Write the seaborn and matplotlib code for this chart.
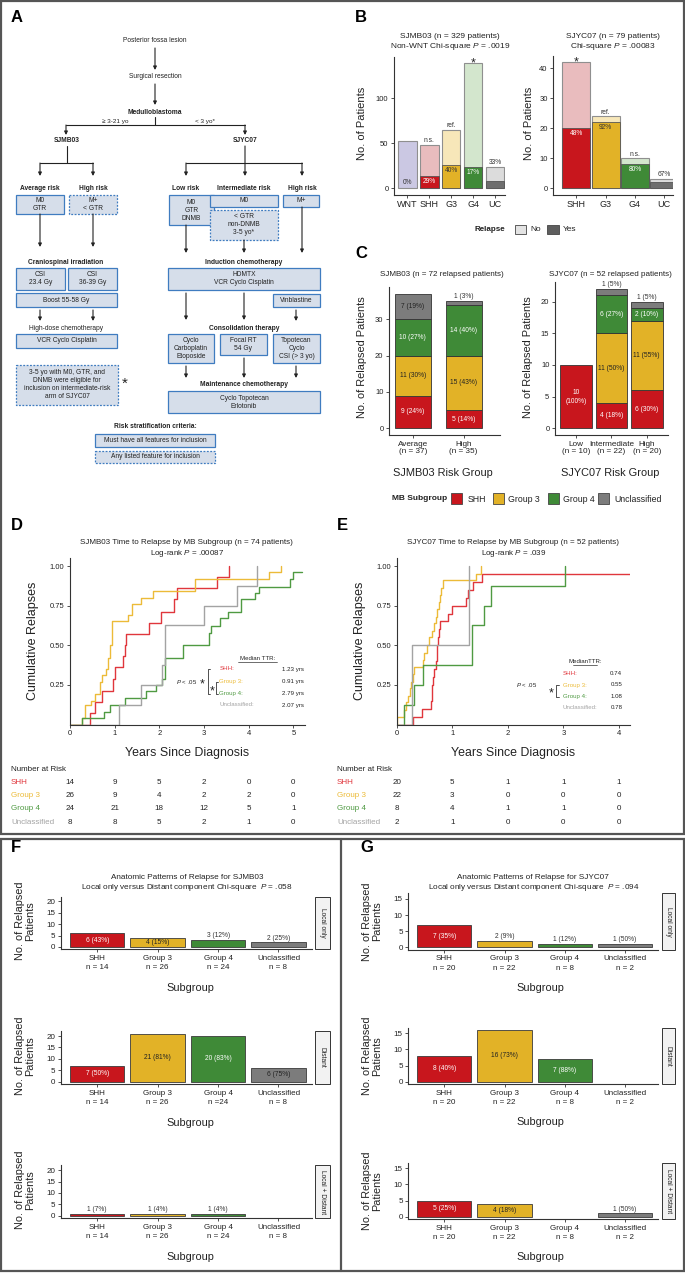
import numpy as np
import pandas as pd
import matplotlib
matplotlib.use("Agg")
import matplotlib.pyplot as plt
import matplotlib.transforms as mtransforms
from matplotlib.patches import Rectangle
import seaborn as sns

# ---------------- data ----------------
# B: patients per subgroup, and how many of them relapsed
b1_groups = ["WNT", "SHH", "G3", "G4", "UC"]
b1_total = [53, 48, 65, 139, 24]
b1_relapse = [0, 14, 26, 24, 8]
b1_pct = ["0%", "29%", "40%", "17%", "33%"]
b1_mark = ["", "n.s.", "ref.", "*", ""]

b2_groups = ["SHH", "G3", "G4", "UC"]
b2_total = [42, 24, 10, 3]
b2_relapse = [20, 22, 8, 2]
b2_pct = ["48%", "92%", "80%", "67%"]
b2_mark = ["*", "ref.", "n.s.", ""]

# C: relapsed patients per risk group, rows = SHH, Group 3, Group 4, Unclassified
subgroups = ["SHH", "Group 3", "Group 4", "Unclassified"]
c1_risk = ["Average\n(n = 37)", "High\n(n = 35)"]
c1_counts = [[9, 5], [11, 15], [10, 14], [7, 1]]
c1_pct = [[24, 14], [30, 43], [27, 40], [19, 3]]
c2_risk = ["Low\n(n = 10)", "Intermediate\n(n = 22)", "High\n(n = 20)"]
c2_counts = [[10, 4, 6], [0, 11, 11], [0, 6, 2], [0, 1, 1]]
c2_pct = [[100, 18, 30], [0, 50, 55], [0, 27, 10], [0, 5, 5]]

# D: SJMB03 cumulative relapse steps (years, cumulative fraction)
d_shh_t = [0, 0.45, 0.57, 0.71, 0.97, 1.00, 1.18, 1.23, 1.25, 1.77, 2.04, 2.33, 2.39, 3.30, 3.55]
d_shh_y = [0, 0.07, 0.14, 0.21, 0.29, 0.36, 0.43, 0.50, 0.57, 0.64, 0.71, 0.79, 0.86, 0.93, 1.00]
d_g3_t = [0, 0.26, 0.34, 0.46, 0.56, 0.67, 0.72, 0.80, 0.86, 0.90, 0.93, 1.30, 1.38, 1.60, 1.85, 2.80, 4.46, 4.72]
d_g3_y = [0, 0.04, 0.12, 0.15, 0.19, 0.27, 0.31, 0.35, 0.42, 0.50, 0.65, 0.69, 0.76, 0.80, 0.84, 0.92, 0.96, 1.00]
d_g4_t = [0, 0.26, 0.77, 0.89, 1.23, 1.69, 1.93, 2.05, 2.13, 2.52, 3.12, 3.15, 3.35, 3.54, 3.82, 4.14, 4.24, 4.92, 5.00, 5.20]
d_g4_y = [0, 0.04, 0.08, 0.125, 0.17, 0.21, 0.25, 0.29, 0.42, 0.50, 0.58, 0.62, 0.67, 0.71, 0.79, 0.83, 0.87, 0.92, 0.96, 0.96]
d_unc_t = [0, 1.10, 1.60, 2.07, 2.12, 3.00, 3.74, 4.19]
d_unc_y = [0, 0.125, 0.25, 0.375, 0.625, 0.75, 0.875, 1.00]
d_median = ["1.23 yrs", "0.91 yrs", "2.79 yrs", "2.07 yrs"]
d_risk_years = [0, 1, 2, 3, 4, 5]
d_at_risk = [[14, 9, 5, 2, 0, 0], [26, 9, 4, 2, 2, 0], [24, 21, 18, 12, 5, 1], [8, 8, 5, 2, 1, 0]]

# E: SJYC07
e_shh_t = [0, 0.29, 0.45, 0.62, 0.63, 0.64, 0.66, 0.67, 0.70, 0.72, 0.73, 0.75, 0.77, 0.78, 0.93, 0.99, 1.25, 1.29, 1.38, 1.53, 4.20]
e_shh_y = [0, 0.05, 0.10, 0.15, 0.20, 0.25, 0.30, 0.35, 0.40, 0.45, 0.50, 0.55, 0.60, 0.65, 0.70, 0.75, 0.80, 0.85, 0.90, 0.95, 0.95]
e_g3_t = [0, 0.00, 0.14, 0.17, 0.21, 0.24, 0.26, 0.29, 0.31, 0.47, 0.50, 0.55, 0.59, 0.64, 0.68, 0.70, 0.72, 0.76, 0.78, 0.80, 0.84, 1.43, 1.51]
e_g3_y = [0, 0.045, 0.09, 0.14, 0.18, 0.23, 0.27, 0.32, 0.36, 0.41, 0.45, 0.50, 0.55, 0.59, 0.64, 0.68, 0.73, 0.77, 0.82, 0.86, 0.91, 0.95, 1.00]
e_g4_t = [0, 0.14, 0.31, 0.47, 1.35, 1.57, 1.69, 3.03]
e_g4_y = [0, 0.125, 0.25, 0.375, 0.625, 0.75, 0.875, 1.00]
e_unc_t = [0, 0.27, 1.30]
e_unc_y = [0, 0.50, 1.00]
e_median = ["0.74", "0.55", "1.08", "0.78"]
e_risk_years = [0, 1, 2, 3, 4]
e_at_risk = [[20, 5, 1, 1, 1], [22, 3, 0, 0, 0], [8, 4, 1, 1, 0], [2, 1, 0, 0, 0]]

# F / G: anatomic pattern of relapse
f_local = [6, 4, 3, 2]
f_local_pct = [43, 15, 12, 25]
f_distant = [7, 21, 20, 6]
f_distant_pct = [50, 81, 83, 75]
f_both = [1, 1, 1, 0]
f_both_pct = [7, 4, 4, 0]
f_n = ["n = 14", "n = 26", "n = 24", "n = 8"]
f_n_distant = ["n = 14", "n = 26", "n =24", "n = 8"]
g_local = [7, 2, 1, 1]
g_local_pct = [35, 9, 12, 50]
g_distant = [8, 16, 7, 0]
g_distant_pct = [40, 73, 88, 0]
g_both = [5, 4, 0, 1]
g_both_pct = [25, 18, 0, 50]
g_n = ["n = 20", "n = 22", "n = 8", "n = 2"]

# ---------------- style ----------------
W, H = 685, 1273
sns.set_style("ticks")
plt.rcParams["font.family"] = ["Liberation Sans", "DejaVu Sans"]
plt.rcParams["mathtext.fontset"] = "custom"
plt.rcParams["mathtext.rm"] = "Liberation Sans"
plt.rcParams["mathtext.it"] = "Liberation Sans:italic"

SUB_COL = {"SHH": "#c8161d", "Group 3": "#e2b227", "Group 4": "#3f8a37", "Unclassified": "#7c7c7c"}
SUB_TXT = {"SHH": "white", "Group 3": "#222222", "Group 4": "white", "Unclassified": "#222222"}
KM_COL = ["#e0363c", "#ecbb38", "#4f9a42", "#a3a3a3"]
B_LIGHT = {"WNT": "#cbc8e3", "SHH": "#e9bcbe", "G3": "#f7e7b9", "G4": "#d3e6cd", "UC": "#dcdcdc"}
B_DARK = {"WNT": "#cbc8e3", "SHH": "#c8161d", "G3": "#e2b227", "G4": "#3f8a37", "UC": "#6e6e6e"}
BOX_FC, BOX_EC = "#d6deea", "#3f7cc0"

fig = plt.figure(figsize=(W / 100, H / 100), dpi=100)
ov = fig.add_axes([0, 0, 1, 1])
ov.set_xlim(0, W)
ov.set_ylim(H, 0)
ov.axis("off")


def px_axes(l, t, r, b):
    return fig.add_axes([l / W, 1 - b / H, (r - l) / W, (b - t) / H])


def px2d(ax, px):
    lo, hi = ax.get_ylim()
    return px * (hi - lo) / (ax.get_position().height * H)


def style(ax, fs=5.5):
    sns.despine(ax=ax)
    for s in ("left", "bottom"):
        ax.spines[s].set_color("#333333")
        ax.spines[s].set_linewidth(0.8)
    ax.tick_params(length=2.5, width=0.6, labelsize=fs, pad=1.5, colors="#333333", labelcolor="#222222")
    ax.set_facecolor("none")
    ax.set_xlabel("")
    ax.set_ylabel("")


def tx(x, y, s, fs=5, **kw):
    kw.setdefault("ha", "center")
    kw.setdefault("va", "center")
    kw.setdefault("color", "#222222")
    ov.text(x, y, s, fontsize=fs, **kw)


def title(x, y, s, fs=8, rot=0):
    ov.text(x, y, s, fontsize=fs, ha="center", va="center", rotation=rot,
            color="#222222", linespacing=1.0)


# ---------------- borders & letters ----------------
ov.add_patch(Rectangle((1, 1), 683, 833, fill=False, ec="#555555", lw=1.6))
ov.add_patch(Rectangle((1, 839), 683, 432, fill=False, ec="#555555", lw=1.6))
ov.plot([341, 341], [839, 1271], color="#555555", lw=1.6)
for letter, x, y in [("A", 11, 18), ("B", 355, 18), ("C", 355, 254), ("D", 11, 526),
                     ("E", 337, 526), ("F", 11, 848), ("G", 360, 848)]:
    tx(x, y, letter, fs=12, ha="left", weight="bold", color="black")

# ---------------- A: flowchart ----------------
def box(x0, y0, x1, y1, s, dashed=False):
    ov.add_patch(Rectangle((x0, y0), x1 - x0, y1 - y0, fc=BOX_FC, ec=BOX_EC, lw=0.9,
                           ls=(0, (1.5, 1.2)) if dashed else "-"))
    tx((x0 + x1) / 2, (y0 + y1) / 2, s, fs=4.8, linespacing=1.2)


def arrow(x, y0, y1):
    ov.annotate("", xy=(x, y1), xytext=(x, y0),
                arrowprops=dict(arrowstyle="-|>", lw=0.8, color="#222222", mutation_scale=5,
                                shrinkA=0, shrinkB=0))


def seg(xs, ys):
    ov.plot(xs, ys, color="#222222", lw=0.8)


tx(155, 41, "Posterior fossa lesion", fs=4.8)
arrow(155, 48, 70)
tx(155, 77, "Surgical resection", fs=4.8)
arrow(155, 84, 105)
tx(155, 112, "Medulloblastoma", fs=4.8, weight="bold")
seg([155, 155], [117, 125])
seg([66, 245], [125, 125])
arrow(66, 125, 135)
arrow(245, 125, 135)
tx(115, 121, "≥ 3-21 yo", fs=4.6)
tx(205, 121, "< 3 yo*", fs=4.6)
tx(67, 140, "SJMB03", fs=4.8, weight="bold")
tx(245, 140, "SJYC07", fs=4.8, weight="bold")
seg([67, 67], [146, 163])
seg([40, 93], [163, 163])
arrow(40, 163, 176)
arrow(93, 163, 176)
seg([186, 302], [163, 163])
arrow(186, 163, 176)
arrow(302, 163, 176)
arrow(245, 146, 176)
for s, x in [("Average risk", 40), ("High risk", 93), ("Low risk", 186),
             ("Intermediate risk", 244), ("High risk", 302)]:
    tx(x, 188, s, fs=4.8, weight="bold")
box(16, 195, 64, 214, "M0\nGTR")
box(69, 195, 117, 214, "M+\n< GTR", dashed=True)
box(169, 195, 214, 225, "M0\nGTR\nDNMB")
box(210, 195, 278, 207, "M0")
box(210, 210, 278, 240, "< GTR\nnon-DNMB\n3-5 yo*", dashed=True)
box(283, 195, 319, 207, "M+")
arrow(40, 214, 247)
arrow(93, 214, 247)
arrow(186, 225, 253)
arrow(244, 240, 253)
arrow(302, 207, 253)
tx(66, 262, "Craniospinal irradiation", fs=4.8, weight="bold")
box(16, 268, 65, 290, "CSI\n23.4 Gy")
box(68, 268, 117, 290, "CSI\n36-39 Gy")
box(16, 293, 117, 307, "Boost 55-58 Gy")
arrow(40, 310, 321)
arrow(93, 310, 321)
tx(66, 329, "High-dose chemotherapy", fs=4.8)
box(16, 334, 117, 348, "VCR Cyclo Cisplatin")
tx(244, 262, "Induction chemotherapy", fs=4.8, weight="bold")
box(168, 268, 320, 290, "HDMTX\nVCR Cyclo Cisplatin")
box(273, 294, 320, 307, "Vinblastine")
arrow(186, 293, 320)
arrow(244, 293, 320)
arrow(296, 310, 321)
tx(244, 329, "Consolidation therapy", fs=4.8, weight="bold")
box(168, 334, 214, 363, "Cyclo\nCarboplatin\nEtoposide")
box(220, 334, 267, 355, "Focal RT\n54 Gy")
box(273, 334, 320, 363, "Topotecan\nCyclo\nCSI (> 3 yo)")
arrow(186, 366, 378)
arrow(244, 358, 378)
arrow(296, 366, 378)
tx(244, 385, "Maintenance chemotherapy", fs=4.8, weight="bold")
box(168, 391, 320, 413, "Cyclo Topotecan\nErlotonib")
box(16, 365, 118, 405, "3-5 yo with M0, GTR, and\nDNMB were eligible for\ninclusion on intermediate-risk\narm of SJYC07", dashed=True)
tx(125, 384, "*", fs=11)
tx(155, 427, "Risk stratification criteria:", fs=4.8, weight="bold")
box(95, 434, 215, 447, "Must have all features for inclusion")
box(95, 451, 215, 463, "Any listed feature for inclusion", dashed=True)

# ---------------- B ----------------
def b_chart(ax, groups, total, relapse, pct, mark, xlim, ylim, yticks, width):
    df = pd.DataFrame({"grp": groups, "total": total,
                       "yes": [v if v > 0 else np.nan for v in relapse]})
    sns.barplot(data=df, x="grp", y="total", hue="grp", order=groups, hue_order=groups,
                palette=B_LIGHT, width=width, saturation=1, errorbar=None,
                edgecolor="#8f8f8f", linewidth=0.8, legend=False, ax=ax)
    sns.barplot(data=df, x="grp", y="yes", hue="grp", order=groups, hue_order=groups,
                palette=B_DARK, width=width, saturation=1, errorbar=None,
                edgecolor="#555555", linewidth=0.6, legend=False, ax=ax)
    ax.set_xlim(*xlim)
    ax.set_ylim(*ylim)
    ax.set_yticks(yticks)
    style(ax)
    ax.tick_params(axis="x", labelsize=6.5)
    for i, g in enumerate(groups):
        if g == "UC":
            ax.text(i, total[i] + px2d(ax, 0.8), pct[i], ha="center", va="bottom", fontsize=4.8, color="#333333")
        else:
            yy = max(relapse[i] - px2d(ax, 5.5), px2d(ax, 5.5))
            col = "white" if g in ("SHH", "G4") else "#333333"
            ax.text(i, yy, pct[i], ha="center", va="center", fontsize=4.8, color=col)
        if mark[i] == "*":
            ax.text(i, total[i] - px2d(ax, 3.5), "*", ha="center", va="baseline", fontsize=9)
        elif mark[i]:
            ax.text(i, total[i] + px2d(ax, 0.8), mark[i], ha="center", va="bottom", fontsize=4.8, color="#333333")


axB1 = px_axes(394, 57, 505, 194.6)
b_chart(axB1, b1_groups, b1_total, b1_relapse, b1_pct, b1_mark, (-0.6, 4.45), (-6.95, 145.95), [0, 50, 100], 0.85)
axB2 = px_axes(553.3, 56, 673, 194.6)
b_chart(axB2, b2_groups, b2_total, b2_relapse, b2_pct, b2_mark, (-0.79, 3.3), (-2.1, 44.1), [0, 10, 20, 30, 40], 0.96)
tx(450, 37, "SJMB03 (n = 329 patients)", fs=6)
tx(450, 46.5, "Non-WNT Chi-square $P$ = .0019", fs=6)
tx(612.7, 37, "SJYC07 (n = 79 patients)", fs=6)
tx(612.7, 46.5, "Chi-square $P$ = .00083", fs=6)
title(361.7, 123, "No. of Patients", fs=8, rot=90)
title(529, 123, "No. of Patients", fs=8, rot=90)
tx(490, 229.5, "Relapse", fs=5.8, weight="bold")
ov.add_patch(Rectangle((515, 225), 10.7, 9, fc="#e3e3e3", ec="#444444", lw=0.6))
tx(530.5, 229.5, "No", fs=6, ha="left")
ov.add_patch(Rectangle((547.3, 225), 11.7, 9, fc="#5e5e5e", ec="#444444", lw=0.6))
tx(563.3, 229.5, "Yes", fs=6, ha="left")

# ---------------- C ----------------
def c_chart(ax, risk, counts, pcts, xlim, ylim, yticks, width):
    x = np.arange(len(risk))
    bottom = np.zeros(len(risk))
    for k, sg in enumerate(subgroups):
        h = np.array(counts[k], float)
        keep = h > 0
        ax.bar(x[keep], h[keep], bottom=bottom[keep], width=width, color=SUB_COL[sg],
               edgecolor="#333333", linewidth=0.6)
        for i in x[keep]:
            n, p = counts[k][i], pcts[k][i]
            if p == 100:
                ax.text(i, bottom[i] + n / 2, f"{n}\n({p}%)", ha="center", va="center",
                        fontsize=4.8, color=SUB_TXT[sg], linespacing=1.4)
            elif n >= 2:
                ax.text(i, bottom[i] + n / 2, f"{n} ({p}%)", ha="center", va="center",
                        fontsize=4.8, color=SUB_TXT[sg])
        bottom = bottom + h
    ax.set_xlim(*xlim)
    ax.set_ylim(*ylim)
    ax.set_yticks(yticks)
    ax.set_xticks(x)
    ax.set_xticklabels(risk, linespacing=1.1)
    style(ax)
    ax.tick_params(axis="x", labelsize=5.9)
    # a single-patient top segment gets its label above the stack
    for i in x:
        if counts[-1][i] == 1:
            ax.text(i, bottom[i] + px2d(ax, 1.0), f"1 ({pcts[-1][i]}%)", ha="center", va="bottom",
                    fontsize=4.8, color="#333333")


axC1 = px_axes(389, 287.3, 500, 435)
c_chart(axC1, c1_risk, c1_counts, c1_pct, (-0.47, 1.72), (-1.85, 38.85), [0, 10, 20, 30], 0.71)
axC2 = px_axes(555, 282, 668, 435.3)
c_chart(axC2, c2_risk, c2_counts, c2_pct, (-0.59, 2.6), (-1.1, 23.1), [0, 5, 10, 15, 20], 0.89)
tx(441.7, 274, "SJMB03 (n = 72 relapsed patients)", fs=5.8)
tx(610, 274, "SJYC07 (n = 52 relapsed patients)", fs=5.8)
title(361.7, 357, "No. of Relapsed Patients", fs=7.9, rot=90)
title(528.3, 357, "No. of Relapsed Patients", fs=7.9, rot=90)
title(443, 473, "SJMB03 Risk Group", fs=7.9)
title(610, 473, "SJYC07 Risk Group", fs=7.9)
tx(420, 499, "MB Subgroup", fs=6, weight="bold")
for sg, x0, xt in [("SHH", 451, 467.7), ("Group 3", 492.7, 508.3),
                   ("Group 4", 547.7, 562.7), ("Unclassified", 598, 614)]:
    ov.add_patch(Rectangle((x0, 493.3), 11.5, 11, fc=SUB_COL[sg], ec="#444444", lw=0.6))
    tx(xt, 499, sg, fs=6.3, ha="left")

# ---------------- D / E ----------------
def km(ax, curves, xmax):
    for (t, y), c in zip(curves, KM_COL):
        sns.lineplot(x=t, y=y, drawstyle="steps-post", estimator=None, sort=False,
                     color=c, lw=1.0, ax=ax)
    ax.set_xlim(0, xmax)
    ax.set_ylim(0, 1.05)
    ax.set_yticks([0.25, 0.5, 0.75, 1.0])
    ax.set_yticklabels(["0.25", "0.50", "0.75", "1.00"])
    ax.set_xticks(range(int(xmax) + 1))
    style(ax)


axD = px_axes(70, 558.1, 305, 724.5)
km(axD, [(d_shh_t, d_shh_y), (d_g3_t, d_g3_y), (d_g4_t, d_g4_y), (d_unc_t, d_unc_y)], 5.26)
axE = px_axes(396.7, 558.1, 630, 724.5)
km(axE, [(e_shh_t, e_shh_y), (e_g3_t, e_g3_y), (e_g4_t, e_g4_y), (e_unc_t, e_unc_y)], 4.2)

tx(186.7, 542.7, "SJMB03 Time to Relapse by MB Subgroup (n = 74 patients)", fs=5.8)
tx(186.7, 553.3, "Log-rank $P$ = .00087", fs=5.8)
tx(513.3, 542.7, "SJYC07 Time to Relapse by MB Subgroup (n = 52 patients)", fs=5.8)
tx(513.3, 553.3, "Log-rank $P$ = .039", fs=5.8)
title(33, 641, "Cumulative Relapses", fs=9, rot=90)
title(360, 641, "Cumulative Relapses", fs=9, rot=90)
title(187, 753.3, "Years Since Diagnosis", fs=8.9)
title(513.3, 753.3, "Years Since Diagnosis", fs=8.9)

# median TTR boxes
tx(257.5, 658, "Median TTR:", fs=4.4)
ov.plot([238, 277], [661.5, 661.5], color="#333333", lw=0.5)
for k, y in enumerate([669, 681.7, 693.7, 705]):
    tx(219.3, y, subgroups[k] + ":", fs=4.4, ha="left", color=KM_COL[k])
    tx(304, y, d_median[k], fs=4.4, ha="right")
tx(187, 681.7, "$P$ < .05", fs=4.4)
tx(202.5, 684, "*", fs=9)
ov.plot([210.5, 207.7, 207.7, 210.5], [669, 669, 693.7, 693.7], color="#333333", lw=0.6)
tx(211.8, 691, "*", fs=9)
ov.plot([218.5, 216, 216, 218.5], [681.7, 681.7, 693.7, 693.7], color="#333333", lw=0.6)

tx(585, 661.7, "MedianTTR:", fs=4.4)
ov.plot([572.7, 597.3], [665.2, 665.2], color="#333333", lw=0.5)
for k, y in enumerate([673.3, 685, 696.7, 707.7]):
    tx(562.7, y, subgroups[k] + ":", fs=4.4, ha="left", color=KM_COL[k])
    tx(622.3, y, e_median[k], fs=4.4, ha="right")
tx(526.7, 685, "$P$ < .05", fs=4.4)
tx(551.5, 693, "*", fs=9)
ov.plot([559, 556, 556, 559], [685, 685, 696.7, 696.7], color="#333333", lw=0.6)

# number at risk tables
def risk_table(ax, xlab, years, counts):
    tr = mtransforms.blended_transform_factory(ax.transData, ov.transData)
    tx(xlab, 769.3, "Number at Risk", fs=5.8, ha="left")
    for k, y in enumerate([782.7, 795.9, 809, 822]):
        tx(xlab, y, subgroups[k], fs=5.8, ha="left", color=KM_COL[k])
        for t, n in zip(years, counts[k]):
            ov.text(t, y, str(n), transform=tr, fontsize=5.8, ha="center", va="center", color="#222222")


risk_table(axD, 11, d_risk_years, d_at_risk)
risk_table(axE, 337, e_risk_years, e_at_risk)

# ---------------- F / G ----------------
def fg_row(ax, vals, pcts, nlab, ylim, yticks):
    df = pd.DataFrame({"grp": subgroups, "n": [v if v > 0 else np.nan for v in vals]})
    sns.barplot(data=df, x="grp", y="n", hue="grp", order=subgroups, hue_order=subgroups,
                palette=SUB_COL, width=0.9, saturation=1, errorbar=None,
                edgecolor="#3a3a3a", linewidth=0.6, legend=False, ax=ax)
    ax.set_xlim(-0.6, 3.55)
    ax.set_ylim(*ylim)
    ax.set_yticks(yticks)
    ax.set_xticks(range(4))
    ax.set_xticklabels([f"{s}\n{n}" for s, n in zip(subgroups, nlab)], linespacing=1.5)
    style(ax, fs=5.8)
    for i, (v, p) in enumerate(zip(vals, pcts)):
        if v == 0:
            continue
        s = f"{v} ({p}%)"
        if v >= 4:
            ax.text(i, v / 2, s, ha="center", va="center", fontsize=4.8, color=SUB_TXT[subgroups[i]])
        else:
            ax.text(i, v + px2d(ax, 0.8), s, ha="center", va="bottom", fontsize=4.8, color="#333333")


def strip(x0, x1, t, b, s):
    ov.add_patch(Rectangle((x0, t), x1 - x0, b - t, fc="#f2f2f2", ec="#333333", lw=0.7))
    tx((x0 + x1) / 2, (t + b) / 2, s, fs=4.8, rotation=270)


f_rows = [(f_local, f_local_pct, f_n, 896.7, 949.3, "Local only"),
          (f_distant, f_distant_pct, f_n_distant, 1031.4, 1084.1, "Distant"),
          (f_both, f_both_pct, f_n, 1165.3, 1218.4, "Local + Distant")]
for vals, pcts, nlab, t, b, lab in f_rows:
    ax = px_axes(61, t, 311.7, b)
    fg_row(ax, vals, pcts, nlab, (-1.05, 22.05), [0, 5, 10, 15, 20])
    strip(315, 330, t, b, lab)
    title(25, (t + b) / 2 - 2, "No. of Relapsed\nPatients", fs=7.8, rot=90)
    title(190, b + 38.5, "Subgroup", fs=7.9)

g_rows = [(g_local, g_local_pct, 893.2, 949.9, "Local only"),
          (g_distant, g_distant_pct, 1027.5, 1084.3, "Distant"),
          (g_both, g_both_pct, 1162.5, 1219.3, "Local + Distant")]
for vals, pcts, t, b, lab in g_rows:
    ax = px_axes(408.3, t, 658, b)
    fg_row(ax, vals, pcts, g_n, (-0.8, 16.8), [0, 5, 10, 15])
    strip(661.7, 675, t, b, lab)
    title(372.5, (t + b) / 2, "No. of Relapsed\nPatients", fs=7.8, rot=90)
    title(540, b + 38, "Subgroup", fs=7.9)

tx(187, 877.7, "Anatomic Patterns of Relapse for SJMB03", fs=5.9)
tx(187, 887.9, "Local only versus Distant component Chi-square  $P$ = .058", fs=5.9)
tx(533.3, 877.7, "Anatomic Patterns of Relapse for SJYC07", fs=5.9)
tx(533.3, 887.9, "Local only versus Distant component Chi-square  $P$ = .094", fs=5.9)

fig.savefig("out.png", dpi=100)
